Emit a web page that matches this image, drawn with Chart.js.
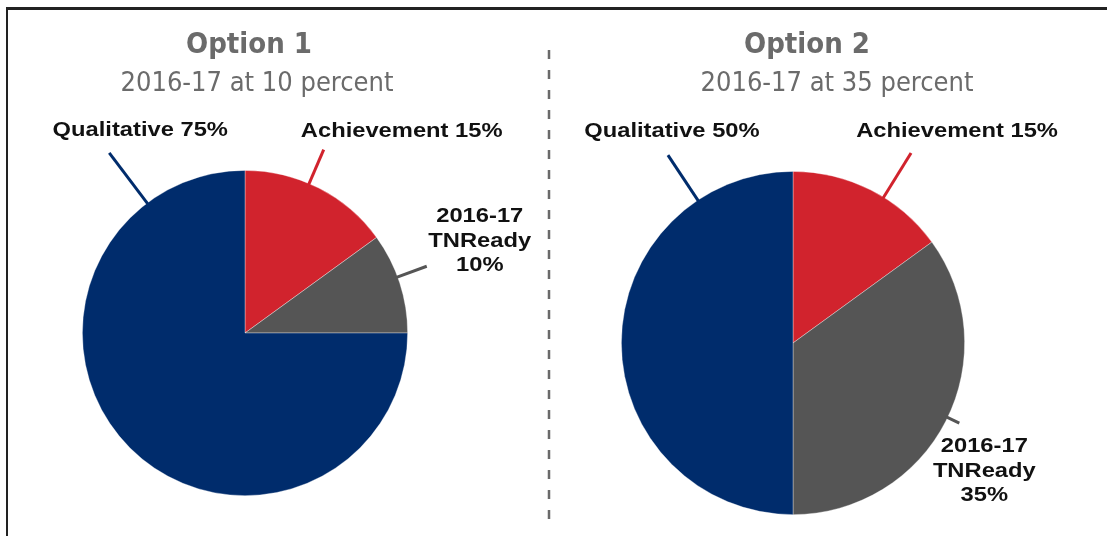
<!DOCTYPE html>
<html>
<head>
<meta charset="utf-8">
<script src="https://cdn.jsdelivr.net/npm/chart.js@4.4.0/dist/chart.umd.min.js"></script>
<style>
  body { margin: 0; background: #fff; }
  #wrap { position: relative; width: 1107px; height: 536px; overflow: hidden; background: #fff; }
  #frame { position: absolute; left: 6px; top: 7px; width: 1120px; height: 560px;
           border-top: 3px solid #222; border-left: 2px solid #222; }
  canvas { position: absolute; left: 0; top: 0; }
</style>
</head>
<body>
<div id="wrap">
  <div id="frame"></div>
  <canvas id="pie1" width="1107" height="536"></canvas>
  <canvas id="pie2" width="1107" height="536"></canvas>
</div>
<script>
// dados
const categorias = ['Achievement', '2016-17\nTNReady', 'Qualitative'];
const valoresOpcao1 = [15, 10, 75];
const valoresOpcao2 = [15, 35, 50];
const titulos = ['Option 1', 'Option 2'];
const subtitulos = ['2016-17 at 10 percent', '2016-17 at 35 percent'];
const cores = ['#d1232d', '#555555', '#002c6c'];

function textoRotulo(cat, valor) {
  const partes = cat.split('\n');
  if (partes.length > 1) return partes.concat([valor + '%']);
  return [cat + ' ' + valor + '%'];
}

function textoEsticado(ctx, txt, cx, y, sx) {
  ctx.save();
  ctx.translate(cx, y);
  ctx.scale(sx, 1);
  ctx.fillText(txt, 0, 0);
  ctx.restore();
}

const rotulosPlugin = {
  id: 'rotulos',
  afterDraw(chart, args, opts) {
    const ctx = chart.ctx;
    const meta = chart.getDatasetMeta(0);
    const valores = chart.data.datasets[0].data;

    // titulo e subtitulo
    ctx.save();
    ctx.textAlign = 'center';
    ctx.textBaseline = 'alphabetic';
    ctx.fillStyle = '#6b6b6b';
    ctx.font = 'bold 29px "DejaVu Sans Condensed", "DejaVu Sans", sans-serif';
    ctx.fillText(opts.titulo, opts.tituloX, 53);
    ctx.font = '27px "DejaVu Sans Condensed", "DejaVu Sans", sans-serif';
    ctx.fillText(opts.subtitulo, opts.subtituloX, 91);
    ctx.restore();

    // linhas-guia e rotulos
    meta.data.forEach((arc, i) => {
      const g = opts.guias[i];
      const a = arc.startAngle + g.frac * (arc.endAngle - arc.startAngle);
      const r0 = arc.outerRadius - 2;
      const r1 = arc.outerRadius + g.comp;
      const x1 = arc.x + Math.cos(a) * r1;
      const y1 = arc.y + Math.sin(a) * r1;

      ctx.save();
      ctx.strokeStyle = cores[i];
      ctx.lineWidth = 3;
      ctx.beginPath();
      ctx.moveTo(arc.x + Math.cos(a) * r0, arc.y + Math.sin(a) * r0);
      ctx.lineTo(x1, y1);
      ctx.stroke();

      ctx.fillStyle = '#111';
      ctx.font = 'bold 21px "Liberation Sans", Arial, sans-serif';
      ctx.textAlign = 'center';
      ctx.textBaseline = 'alphabetic';
      const linhas = textoRotulo(chart.data.labels[i], valores[i]);
      linhas.forEach((l, k) => {
        textoEsticado(ctx, l, x1 + g.dx, y1 + g.dy + k * 24.5, 1.13);
      });
      ctx.restore();
    });

    // divisoria tracejada
    if (opts.divisoria) {
      ctx.save();
      ctx.strokeStyle = '#6a6a6a';
      ctx.lineWidth = 2.5;
      ctx.setLineDash([9, 11]);
      ctx.beginPath();
      ctx.moveTo(549, 50);
      ctx.lineTo(549, 522);
      ctx.stroke();
      ctx.restore();
    }
  }
};

function criarPizza(id, valores, padding, rotulos) {
  return new Chart(document.getElementById(id), {
    type: 'pie',
    data: {
      labels: categorias,
      datasets: [{
        data: valores,
        backgroundColor: cores,
        borderColor: 'rgba(255,255,255,0.45)',
        borderWidth: 0.75,
        hoverOffset: 0,
        hoverBorderWidth: 0
      }]
    },
    options: {
      responsive: false,
      animation: false,
      events: [],
      layout: { padding: padding },
      plugins: {
        legend: { display: false },
        tooltip: { enabled: false },
        title: { display: false },
        rotulos: rotulos
      }
    },
    plugins: [rotulosPlugin]
  });
}

criarPizza('pie1', valoresOpcao1,
  { left: 82, right: 699, top: 170, bottom: 40 },
  {
    titulo: titulos[0], subtitulo: subtitulos[0], tituloX: 249, subtituloX: 257,
    divisoria: true,
    guias: [
      { frac: 0.43, comp: 37, dx: 78, dy: -13 },
      { frac: 0.44, comp: 31, dx: 53, dy: -44 },
      { frac: 0.863, comp: 63, dx: 31, dy: -17 }
    ]
  });

criarPizza('pie2', valoresOpcao2,
  { left: 621, right: 142, top: 171, bottom: 21 },
  {
    titulo: titulos[1], subtitulo: subtitulos[1], tituloX: 807, subtituloX: 837,
    divisoria: false,
    guias: [
      { frac: 0.59, comp: 52, dx: 46, dy: -16 },
      { frac: 0.49, comp: 13, dx: 25, dy: 29 },
      { frac: 0.813, comp: 54, dx: 4, dy: -18 }
    ]
  });
</script>
</body>
</html>
